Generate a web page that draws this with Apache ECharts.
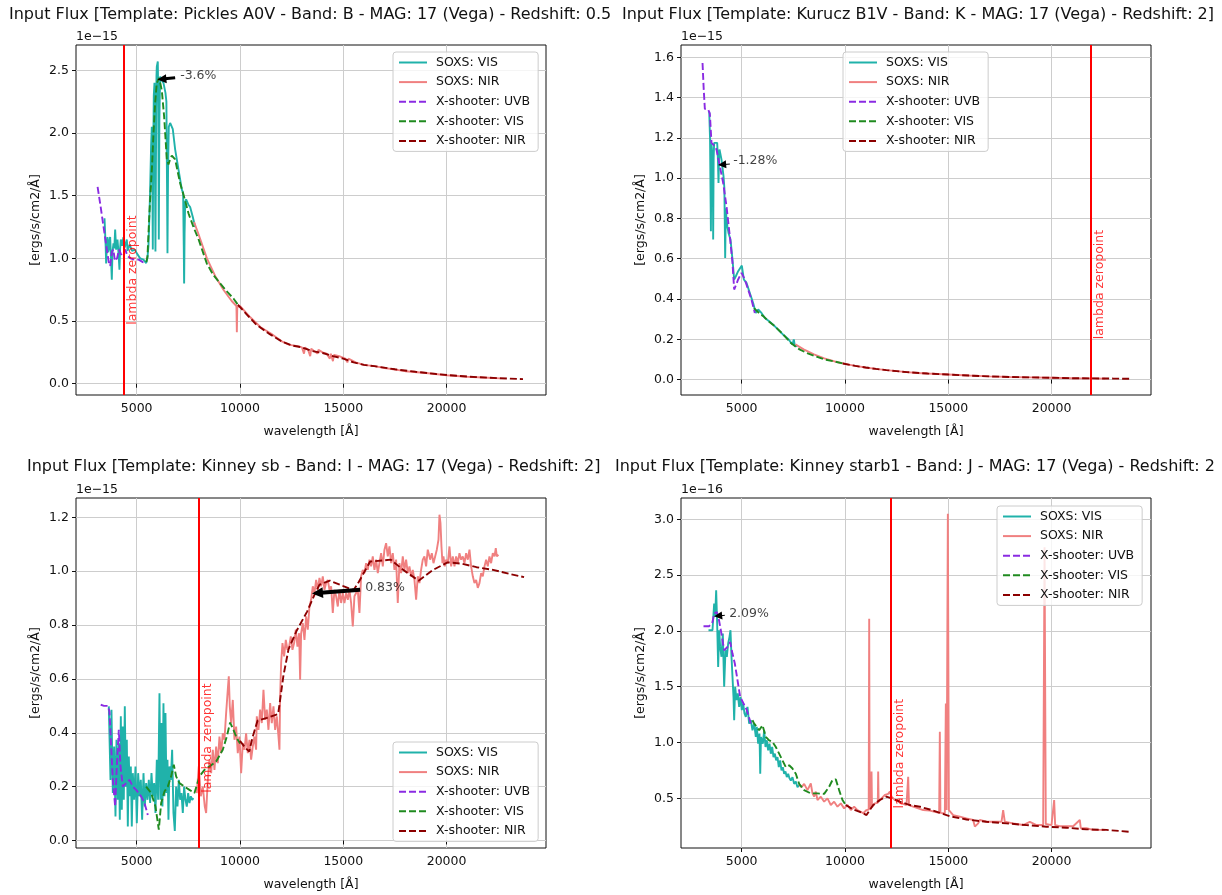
<!DOCTYPE html>
<html><head><meta charset="utf-8">
<script src="https://cdn.jsdelivr.net/npm/echarts@6/dist/echarts.min.js"></script>
<style>html,body{margin:0;padding:0;background:#fff;}#c{width:1222px;height:895px;}</style>
</head><body><div id="c"></div>
<script>
// ---------------- DATA ----------------
const seriesNames = ['SOXS: VIS', 'SOXS: NIR', 'X-shooter: UVB', 'X-shooter: VIS', 'X-shooter: NIR'];
const titles = [
  'Input Flux [Template: Pickles A0V - Band: B - MAG: 17 (Vega) - Redshift: 0.5',
  'Input Flux [Template: Kurucz B1V - Band: K - MAG: 17 (Vega) - Redshift: 2]',
  'Input Flux [Template: Kinney sb - Band: I - MAG: 17 (Vega) - Redshift: 2]',
  'Input Flux [Template: Kinney starb1 - Band: J - MAG: 17 (Vega) - Redshift: 2'
];
const offsetTexts = ['1e\u221215', '1e\u221215', '1e\u221215', '1e\u221216'];
const xTicks = [5000, 10000, 15000, 20000];
const yTicks1 = [0, 0.5, 1.0, 1.5, 2.0, 2.5];
const yTicks2 = [0, 0.2, 0.4, 0.6, 0.8, 1.0, 1.2, 1.4, 1.6];
const yTicks3 = [0, 0.2, 0.4, 0.6, 0.8, 1.0, 1.2];
const yTicks4 = [0.5, 1.0, 1.5, 2.0, 2.5, 3.0];
const lambdaZero = [4360, 21900, 8000, 12200];
const lambdaLabelY = [0.47, 0.2, 0.177, 0.41];
const noteTexts = ['-3.6%', '-1.28%', '0.83%', '2.09%'];
const noteAt = [[7105, 2.46], [4589, 1.084], [16060, 0.9376], [4395, 2.156]];
const arrowFrom = [[6864, 2.44], [4429, 1.07], [15817, 0.931], [4186, 2.14]];
const arrowTo = [[6220, 2.43], [4056, 1.067], [13751, 0.919], [3863, 2.134]];

// Panel 1: Pickles A0V
const p1SoxsVis = [[3445,1.32],[3500,1.10],[3524,0.96],[3560,1.12],[3589,1.17],[3620,1.05],[3653,1.07],[3690,1.15],[3718,1.17],[3760,1.0],[3798,0.83],[3830,1.05],[3879,1.12],[3920,1.08],[3960,1.23],[4008,1.07],[4040,1.12],[4073,1.15],[4120,1.05],[4169,0.91],[4200,1.08],[4234,1.15],[4298,1.10],[4330,1.14],[4363,1.17],[4400,1.08],[4444,1.10],[4490,1.13],[4524,1.15],[4560,1.06],[4605,1.07],[4660,1.11],[4718,1.10],[4780,1.06],[4847,1.055],[4920,1.07],[5008,1.04],[5090,1.03],[5169,1.00],[5250,1.01],[5330,0.99],[5400,0.975],[5460,0.962],[5520,1.00],[5573,1.10],[5620,1.35],[5653,1.55],[5700,1.90],[5734,2.05],[5760,1.60],[5782,1.07],[5800,1.80],[5830,2.30],[5863,2.40],[5890,1.60],[5910,1.055],[5935,1.80],[5960,2.45],[5976,2.53],[6024,2.57],[6050,2.20],[6073,1.15],[6100,2.10],[6137,2.45],[6218,2.42],[6298,2.40],[6395,2.32],[6440,2.25],[6470,1.60],[6492,1.04],[6520,1.70],[6556,2.05],[6621,2.08],[6750,2.03],[6863,1.87],[7024,1.71],[7185,1.55],[7250,1.52],[7280,1.10],[7298,0.80],[7320,1.20],[7350,1.45],[7395,1.47],[7500,1.43],[7589,1.41],[7718,1.33],[7831,1.25]];
const p1SoxsNir = [[7780,1.29],[8000,1.19],[8400,1.0],[8800,0.86],[9200,0.75],[9600,0.66],[9830,0.62],[9850,0.41],[9870,0.61],[10000,0.62],[10500,0.53],[11000,0.45],[11500,0.40],[12000,0.34],[12400,0.31],[12800,0.30],[13000,0.29],[13100,0.24],[13150,0.29],[13300,0.27],[13400,0.22],[13450,0.28],[13600,0.26],[13750,0.24],[13800,0.27],[14000,0.25],[14200,0.24],[14350,0.20],[14400,0.24],[14500,0.18],[14550,0.23],[14800,0.22],[15100,0.20],[15200,0.17],[15250,0.20],[15600,0.17],[16000,0.15],[16500,0.14],[17000,0.125],[18000,0.10],[19000,0.085],[20000,0.068],[21000,0.056],[22000,0.048],[22600,0.043]];
const p1XUvb = [[3110,1.57],[3250,1.42],[3400,1.25],[3550,1.08],[3650,0.97],[3720,0.94],[3800,1.05],[3870,1.07],[3950,0.98],[4050,1.00],[4150,1.07],[4250,1.03],[4350,1.05],[4450,1.07],[4550,1.02],[4700,1.00],[4900,0.99],[5100,0.99],[5300,0.97],[5470,0.96]];
const p1XVis = [[5470,0.97],[5524,1.015],[5600,1.30],[5653,1.467],[5750,1.75],[5815,2.0],[5900,2.25],[5976,2.40],[6089,2.44],[6218,2.34],[6331,2.13],[6460,1.79],[6540,1.75],[6620,1.79],[6702,1.82],[6863,1.79],[7000,1.68],[7105,1.60],[7298,1.49],[7508,1.36],[7750,1.25],[8000,1.15],[8395,0.96],[8700,0.87],[9040,0.80],[9400,0.73],[9685,0.68],[9900,0.63]];
const p1XNir = [[9900,0.63],[10400,0.54],[10800,0.47],[11400,0.40],[12000,0.34],[12500,0.305],[13000,0.29],[13500,0.26],[14000,0.245],[14500,0.22],[15000,0.20],[15500,0.17],[16000,0.15],[16500,0.14],[17500,0.115],[18500,0.095],[19500,0.077],[20500,0.063],[21500,0.052],[22500,0.044],[23700,0.037]];

// Panel 2: Kurucz B1V
const p2SoxsVis = [[3431,1.33],[3470,1.20],[3512,0.736],[3540,1.17],[3577,1.175],[3600,1.10],[3622,0.695],[3645,1.10],[3670,1.175],[3751,1.167],[3816,1.175],[3850,1.10],[3880,0.976],[3905,1.10],[3929,1.142],[4025,1.092],[4122,1.01],[4165,0.95],[4203,0.604],[4235,0.85],[4267,0.794],[4310,0.76],[4364,0.728],[4461,0.695],[4557,0.596],[4638,0.497],[4719,0.513],[4832,0.538],[4912,0.53],[5009,0.566],[5106,0.497],[5235,0.48],[5396,0.43],[5557,0.38],[5686,0.331],[5799,0.348],[5960,0.331],[6121,0.306],[6331,0.29],[6524,0.273],[6766,0.248],[7008,0.223],[7250,0.202],[7460,0.174],[7524,0.199],[7573,0.169],[7700,0.165]];
const p2SoxsNir = [[7600,0.175],[8000,0.15],[8500,0.125],[9000,0.105],[9500,0.09],[10000,0.078],[10500,0.068],[11000,0.06],[11500,0.053],[12000,0.047],[12500,0.042],[13000,0.037],[13500,0.033],[14000,0.03],[15000,0.025],[16000,0.02],[17000,0.016],[18000,0.013],[19000,0.011],[20000,0.009],[21000,0.007],[22000,0.006],[22600,0.005]];
const p2XUvb = [[3107,1.572],[3160,1.45],[3219,1.344],[3380,1.34],[3461,1.32],[3541,1.175],[3703,1.159],[3783,1.142],[3945,1.06],[4106,0.976],[4267,0.861],[4428,0.712],[4557,0.58],[4638,0.447],[4680,0.44],[4832,0.497],[4993,0.53],[5154,0.497],[5315,0.447],[5477,0.397],[5638,0.331]];
const p2XVis = [[5600,0.355],[5750,0.34],[5900,0.325],[6050,0.315],[6300,0.29],[6600,0.265],[7000,0.225],[7400,0.18],[7800,0.15],[8200,0.13],[8600,0.115],[9000,0.10],[9500,0.09],[10000,0.078]];
const p2XNir = [[9900,0.08],[10500,0.068],[11000,0.06],[11500,0.053],[12000,0.047],[12500,0.042],[13000,0.037],[14000,0.03],[15000,0.025],[16000,0.02],[17000,0.016],[18000,0.013],[19000,0.011],[20000,0.009],[21000,0.007],[22000,0.006],[23000,0.005],[23800,0.004]];

// Panel 3: Kinney sb
const p3SoxsVis = [[3653,0.498],[3685,0.498],[3734,0.225],[3782,0.485],[3847,0.176],[3911,0.349],[3976,0.089],[4024,0.374],[4089,0.151],[4137,0.361],[4185,0.077],[4234,0.461],[4282,0.114],[4331,0.423],[4379,0.151],[4427,0.498],[4476,0.20],[4524,0.374],[4573,0.052],[4621,0.312],[4669,0.164],[4718,0.275],[4766,0.052],[4814,0.25],[4879,0.151],[4944,0.275],[5008,0.064],[5073,0.25],[5137,0.164],[5202,0.225],[5266,0.077],[5331,0.25],[5395,0.126],[5460,0.213],[5524,0.151],[5589,0.225],[5653,0.139],[5718,0.25],[5782,0.164],[5847,0.213],[5911,0.102],[5976,0.30],[6040,0.151],[6105,0.547],[6153,0.151],[6202,0.436],[6250,0.126],[6298,0.51],[6347,0.164],[6395,0.473],[6444,0.176],[6492,0.30],[6540,0.077],[6589,0.275],[6653,0.225],[6718,0.337],[6782,0.102],[6847,0.035],[6911,0.20],[6976,0.126],[7040,0.225],[7105,0.151],[7169,0.176],[7234,0.102],[7298,0.20],[7363,0.151],[7427,0.126],[7492,0.176],[7556,0.139],[7621,0.164],[7685,0.151],[7750,0.157]];
const p3SoxsNir = [[7912,0.176],[8008,0.275],[8105,0.164],[8202,0.20],[8298,0.126],[8363,0.102],[8444,0.225],[8524,0.30],[8605,0.25],[8685,0.337],[8766,0.262],[8847,0.349],[8927,0.287],[9008,0.386],[9089,0.324],[9169,0.398],[9250,0.374],[9331,0.473],[9411,0.56],[9460,0.61],[9508,0.498],[9573,0.436],[9653,0.522],[9734,0.374],[9815,0.423],[9895,0.324],[9976,0.386],[10057,0.25],[10137,0.361],[10218,0.337],[10298,0.398],[10379,0.324],[10460,0.374],[10540,0.30],[10621,0.349],[10702,0.386],[10782,0.337],[10815,0.461],[10896,0.411],[10977,0.486],[11057,0.436],[11138,0.56],[11219,0.448],[11299,0.486],[11380,0.411],[11461,0.51],[11541,0.436],[11622,0.498],[11703,0.411],[11783,0.461],[11864,0.386],[11912,0.337],[11945,0.535],[11993,0.659],[12058,0.733],[12138,0.684],[12219,0.745],[12299,0.708],[12380,0.72],[12461,0.758],[12541,0.708],[12622,0.733],[12703,0.783],[12783,0.72],[12864,0.77],[12912,0.597],[12961,0.77],[13041,0.807],[13122,0.745],[13203,0.832],[13283,0.783],[13364,0.869],[13445,0.894],[13525,0.944],[13606,0.919],[13687,0.968],[13767,0.931],[13848,0.975],[13928,0.944],[14009,0.981],[14090,0.931],[14170,0.956],[14251,0.968],[14332,0.931],[14412,0.944],[14493,0.845],[14574,0.931],[14654,0.907],[14735,0.869],[14815,0.931],[14896,0.882],[14977,0.919],[15057,0.882],[15138,0.919],[15219,0.894],[15299,0.931],[15380,0.882],[15461,0.795],[15541,0.907],[15622,0.919],[15703,0.931],[15783,0.845],[15864,0.981],[15945,1.005],[16025,0.993],[16106,1.03],[16187,1.005],[16267,1.043],[16348,1.018],[16429,1.055],[16509,1.005],[16590,1.043],[16671,0.993],[16751,1.03],[16832,1.067],[16913,1.018],[16993,1.08],[17074,1.104],[17155,1.055],[17235,1.092],[17316,1.03],[17396,1.067],[17477,1.005],[17558,1.043],[17638,0.882],[17719,1.03],[17800,0.993],[17880,1.055],[17961,1.005],[18042,1.043],[18122,0.993],[18203,1.018],[18284,0.981],[18364,1.005],[18445,0.968],[18526,0.894],[18606,0.981],[18687,0.956],[18767,1.005],[18848,1.043],[18929,1.055],[19009,1.018],[19090,1.08],[19171,1.055],[19205,1.043],[19285,1.067],[19366,1.03],[19447,1.055],[19527,1.08],[19608,1.117],[19656,1.21],[19705,1.179],[19753,1.092],[19801,1.03],[19850,1.055],[19914,1.018],[19979,1.043],[20059,1.03],[20140,1.092],[20221,1.018],[20301,1.055],[20382,1.018],[20463,1.055],[20543,1.03],[20624,1.067],[20705,1.043],[20785,1.055],[20866,1.03],[20947,1.067],[21027,1.043],[21108,1.08],[21188,1.018],[21269,0.981],[21350,0.956],[21430,0.968],[21511,0.938],[21592,0.956],[21672,0.993],[21753,0.981],[21834,1.018],[21914,1.043],[21995,1.018],[22076,1.055],[22156,1.03],[22237,1.067],[22318,1.055],[22382,1.086],[22430,1.055],[22511,1.061]];
const p3XUvb = [[3262,0.504],[3420,0.50],[3605,0.50],[3685,0.479],[3766,0.349],[3847,0.225],[3960,0.126],[4040,0.275],[4137,0.411],[4218,0.275],[4331,0.20],[4492,0.213],[4653,0.225],[4814,0.20],[4976,0.188],[5218,0.164],[5379,0.139],[5540,0.095]];
const p3XVis = [[5460,0.20],[5702,0.176],[5911,0.126],[6073,0.04],[6186,0.139],[6347,0.182],[6508,0.20],[6670,0.238],[6798,0.281],[6911,0.238],[7073,0.213],[7315,0.20],[7556,0.188],[7798,0.176],[8040,0.238],[8282,0.262],[8524,0.275],[8847,0.293],[9169,0.337],[9363,0.386],[9524,0.438],[9686,0.411],[9847,0.38],[10008,0.36]];
const p3XNir = [[10000,0.37],[10250,0.345],[10450,0.33],[10600,0.38],[10850,0.445],[11300,0.455],[11850,0.47],[12100,0.61],[12350,0.71],[12750,0.78],[13250,0.85],[13650,0.92],[13850,0.95],[14350,0.965],[15000,0.945],[15500,0.93],[15750,0.96],[16300,1.036],[16900,1.04],[17300,1.043],[17900,1.005],[18650,0.965],[19350,1.005],[20050,1.033],[20750,1.028],[21450,1.015],[22250,1.005],[23050,0.99],[23750,0.978]];

// Panel 4: Kinney starb1 (units of 1e-16)
const p4SoxsVis = [[3396,2.006],[3589,2.006],[3670,2.245],[3718,2.126],[3767,2.364],[3815,2.066],[3864,1.678],[3912,2.006],[3960,1.857],[4025,1.768],[4089,1.977],[4154,1.499],[4218,1.827],[4283,1.768],[4347,1.887],[4412,1.947],[4460,2.006],[4509,1.768],[4557,1.588],[4606,1.409],[4638,1.20],[4686,1.499],[4751,1.38],[4815,1.44],[4880,1.32],[4944,1.41],[5009,1.29],[5073,1.35],[5138,1.26],[5202,1.23],[5283,1.32],[5363,1.17],[5444,1.20],[5525,1.11],[5606,1.17],[5686,1.05],[5734,1.14],[5799,0.99],[5864,1.08],[5900,0.72],[5935,1.05],[6025,0.99],[6090,1.11],[6154,0.96],[6219,1.02],[6283,0.93],[6348,0.99],[6412,0.90],[6477,0.96],[6541,0.87],[6606,0.90],[6670,0.84],[6735,0.87],[6799,0.78],[6864,0.84],[6928,0.75],[6993,0.78],[7057,0.72],[7122,0.74],[7186,0.69],[7251,0.72],[7315,0.68],[7380,0.66],[7460,0.69],[7541,0.63],[7622,0.65],[7703,0.60],[7783,0.62]];
const p4SoxsNir = [[7783,0.62],[7900,0.60],[8025,0.63],[8186,0.574],[8347,0.633],[8428,0.544],[8509,0.515],[8589,0.56],[8670,0.485],[8831,0.515],[8993,0.47],[9154,0.50],[9315,0.44],[9477,0.47],[9638,0.425],[9799,0.455],[9960,0.41],[10122,0.44],[10283,0.395],[10445,0.425],[10606,0.395],[10767,0.38],[10882,0.366],[11044,0.395],[11150,0.40],[11173,2.11],[11196,0.40],[11270,0.42],[11286,0.74],[11310,0.42],[11447,0.455],[11590,0.46],[11608,0.74],[11630,0.47],[11770,0.50],[11931,0.53],[12092,0.54],[12173,0.56],[12253,0.515],[12415,0.485],[12576,0.47],[12737,0.455],[12979,0.44],[13060,0.693],[13100,0.44],[13302,0.425],[13544,0.41],[13786,0.395],[14108,0.39],[14350,0.38],[14560,0.37],[14592,1.096],[14620,0.37],[14834,0.366],[14883,1.35],[14920,0.395],[14980,3.05],[15030,0.395],[15238,0.35],[15560,0.336],[15883,0.32],[16205,0.306],[16286,0.247],[16367,0.232],[16447,0.276],[16528,0.306],[16850,0.29],[17173,0.29],[17576,0.29],[17657,0.395],[17737,0.29],[18140,0.276],[18625,0.261],[18947,0.29],[19270,0.261],[19593,0.261],[19660,2.75],[19720,0.27],[19996,0.26],[20125,0.485],[20173,0.26],[20399,0.25],[20721,0.25],[21044,0.25],[21366,0.306],[21415,0.232],[21689,0.232],[22012,0.217],[22334,0.217],[22576,0.217]];
const p4XUvb = [[3154,2.042],[3428,2.042],[3589,2.08],[3670,2.155],[3799,2.17],[3900,2.10],[3993,2.006],[4154,1.827],[4315,1.857],[4444,1.90],[4557,1.797],[4670,1.708],[4799,1.56],[4928,1.41],[5090,1.35],[5251,1.29],[5444,1.17]];
const p4XVis = [[5525,1.20],[5606,1.17],[5847,1.11],[6009,1.155],[6170,1.05],[6331,1.02],[6493,1.006],[6654,0.96],[6815,0.90],[6976,0.84],[7138,0.78],[7299,0.796],[7460,0.767],[7622,0.72],[7783,0.63],[8025,0.574],[8347,0.544],[8669,0.544],[8993,0.54],[9235,0.604],[9396,0.664],[9557,0.67],[9718,0.574],[9880,0.485],[10041,0.44]];
const p4XNir = [[10041,0.44],[10400,0.40],[10848,0.37],[11044,0.35],[11366,0.44],[11689,0.485],[12011,0.515],[12253,0.50],[12656,0.47],[13140,0.44],[13625,0.425],[14108,0.40],[14592,0.37],[15076,0.34],[15883,0.31],[16850,0.29],[17818,0.276],[18786,0.26],[19754,0.246],[20722,0.237],[21689,0.222],[22657,0.217],[23786,0.20]];

// ---------------- LAYOUT / STYLE ----------------
const FONT = 'DejaVu Sans';
const TXT = '#111';
const grids = [
  {left: 76, top: 45}, {left: 681, top: 45}, {left: 76, top: 498}, {left: 681, top: 498}
];
const GW = 470, GH = 350;
const xRange = [2065, 24812];
const yRanges = [[-0.090, 2.702], [-0.0765, 1.661], [-0.028, 1.272], [0.055, 3.191]];
const yTickSets = [yTicks1, yTicks2, yTicks3, yTicks4];
const titlePos = [{left: 9, top: 7}, {left: 622, top: 7}, {left: 27, top: 459}, {left: 615, top: 459}];
const legendPos = [{left: 393, top: 52}, {left: 843, top: 52}, {left: 393, top: 742}, {left: 997, top: 506}];
const arrowWidths = [3, 1, 4, 1];
const arrowHeads = [9, 8, 11, 8];
const panelData = [
  [p1SoxsVis, p1SoxsNir, p1XUvb, p1XVis, p1XNir],
  [p2SoxsVis, p2SoxsNir, p2XUvb, p2XVis, p2XNir],
  [p3SoxsVis, p3SoxsNir, p3XUvb, p3XVis, p3XNir],
  [p4SoxsVis, p4SoxsNir, p4XUvb, p4XVis, p4XNir]
];
const lineStyles = [
  {color: '#20b2aa', width: 1.9, type: 'solid'},
  {color: '#f08080', width: 1.9, type: 'solid'},
  {color: '#8a2be2', width: 1.9, type: [7, 3]},
  {color: '#1f8a1f', width: 1.9, type: [7, 3]},
  {color: '#8b0000', width: 1.9, type: [7, 3]}
];

const option = {
  animation: false,
  backgroundColor: '#fff',
  title: titles.map((t, i) => ({
    text: t, left: titlePos[i].left, top: titlePos[i].top, padding: 0,
    textStyle: {fontSize: 16, fontWeight: 'normal', color: TXT, fontFamily: FONT}
  })),
  grid: grids.map(g => ({left: g.left, top: g.top, width: GW, height: GH, show: true,
    borderColor: '#111', borderWidth: 1, backgroundColor: 'transparent'})),
  xAxis: grids.map((g, i) => ({
    type: 'value', gridIndex: i, min: xRange[0], max: xRange[1],
    axisLine: {show: false},
    axisTick: {show: true, length: 4, customValues: xTicks, lineStyle: {color: '#111'}},
    axisLabel: {customValues: xTicks, fontSize: 12.5, color: TXT, fontFamily: FONT, margin: 7,
      formatter: v => String(v)},
    splitLine: {show: true, lineStyle: {color: '#cdcdcd', width: 1}},
    name: 'wavelength [\u00c5]', nameLocation: 'middle', nameGap: 30,
    nameTextStyle: {fontSize: 12.5, color: TXT, fontFamily: FONT}
  })),
  yAxis: grids.map((g, i) => ({
    type: 'value', gridIndex: i, min: yRanges[i][0], max: yRanges[i][1],
    axisLine: {show: false},
    axisTick: {show: true, length: 4, customValues: yTickSets[i], lineStyle: {color: '#111'}},
    axisLabel: {customValues: yTickSets[i], fontSize: 12.5, color: TXT, fontFamily: FONT, margin: 7,
      formatter: v => Number(v).toFixed(1)},
    splitLine: {show: true, lineStyle: {color: '#cdcdcd', width: 1}},
    name: '[ergs/s/cm2/\u00c5]', nameLocation: 'middle', nameGap: 34,
    nameTextStyle: {fontSize: 12.5, color: TXT, fontFamily: FONT}
  })),
  legend: legendPos.map(p => ({
    orient: 'vertical', left: p.left, top: p.top, data: seriesNames,
    itemWidth: 28, itemHeight: 14, itemGap: 6.6, padding: [4, 8, 4, 5],
    itemStyle: {opacity: 0},
    backgroundColor: 'rgba(255,255,255,0.8)', borderColor: '#cccccc', borderWidth: 1, borderRadius: 3,
    textStyle: {fontSize: 12.5, color: TXT, fontFamily: FONT, padding: [0, 0, 0, 4]},
    selectedMode: false
  })),
  graphic: grids.map((g, i) => ({
    type: 'text', left: g.left, top: g.top - 15,
    style: {text: offsetTexts[i], font: '12.5px "DejaVu Sans"', fill: TXT}
  })),
  series: []
};

panelData.forEach((arrs, i) => {
  arrs.forEach((d, k) => {
    option.series.push({
      type: 'line', name: seriesNames[k], xAxisIndex: i, yAxisIndex: i,
      data: d, showSymbol: false, symbol: 'none', lineStyle: lineStyles[k],
      itemStyle: {color: lineStyles[k].color}, z: 2 + k * 0.01, silent: true
    });
  });
  option.series.push({
    type: 'scatter', name: 'lambda-' + i, xAxisIndex: i, yAxisIndex: i, symbolSize: 0,
    data: [[lambdaZero[i], lambdaLabelY[i]]], silent: true, z: 4,
    label: {show: true, formatter: 'lambda zeropoint', position: 'right', distance: 9, rotate: 90,
      color: 'red', fontSize: 12.5, fontFamily: FONT},
    markLine: {silent: true, symbol: 'none', label: {show: false}, animation: false,
      lineStyle: {color: 'red', width: 2, type: 'solid'}, data: [{xAxis: lambdaZero[i]}]}
  });
  option.series.push({
    type: 'lines', name: 'arrow-' + i, coordinateSystem: 'cartesian2d', xAxisIndex: i, yAxisIndex: i,
    symbol: ['none', 'triangle'], symbolSize: [0, arrowHeads[i]], silent: true, z: 5,
    lineStyle: {color: '#000', width: arrowWidths[i], opacity: 1, curveness: 0},
    data: [{coords: [arrowFrom[i], arrowTo[i]]}]
  });
  option.series.push({
    type: 'scatter', name: 'note-' + i, xAxisIndex: i, yAxisIndex: i, symbolSize: 0,
    data: [noteAt[i]], silent: true, z: 6,
    label: {show: true, formatter: noteTexts[i], position: 'right', distance: 0,
      color: TXT, fontSize: 12.5, fontFamily: FONT}
  });
});

const chart = echarts.init(document.getElementById('c'), null, {renderer: 'canvas'});
chart.setOption(option);
</script></body></html>
